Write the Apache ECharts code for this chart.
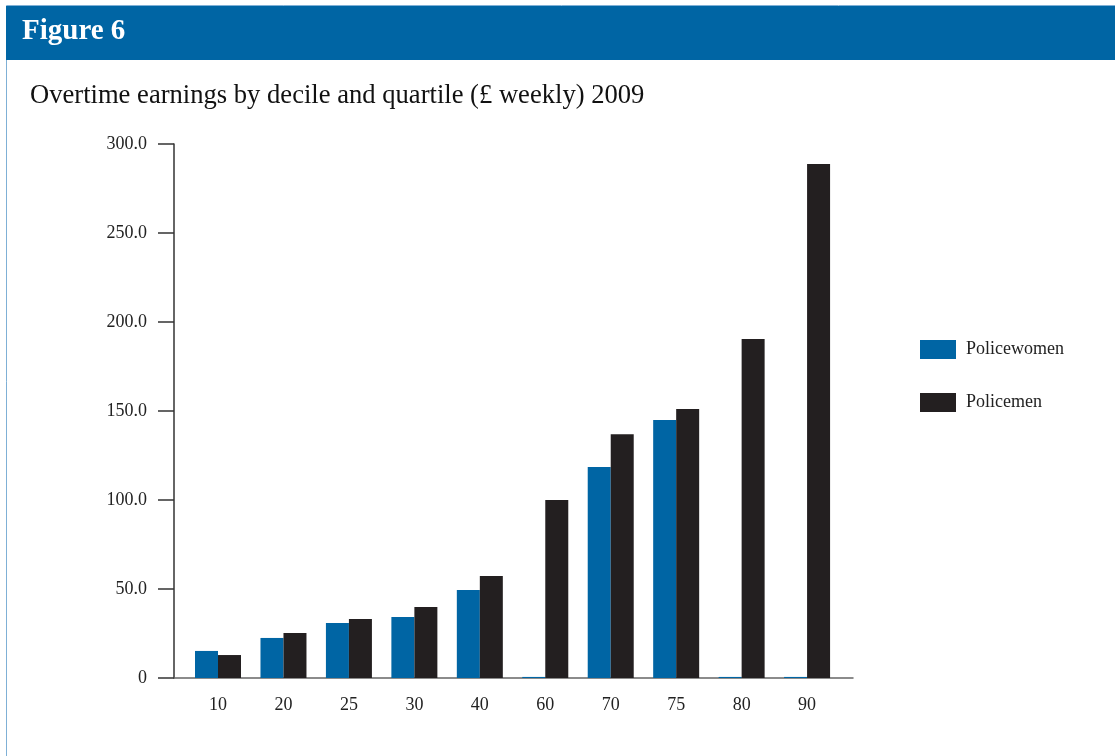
<!DOCTYPE html>
<html lang="en">
  <head>
    <meta charset="utf-8" />
    <title>Figure 6</title>
    <style>
      * {
        margin: 0;
        padding: 0;
      }

      #chart-container {
        position: relative;
        width: 1115px;
        height: 756px;
        overflow: hidden;
        background: #fff;
      }
    </style>
  </head>

  <body>
    <div id="chart-container"></div>
    <script src="https://cdn.jsdelivr.net/npm/echarts@6/dist/echarts.min.js"></script>
    <script>
      var categories = ["10", "20", "25", "30", "40", "60", "70", "75", "80", "90"];
      var policewomen = [15.2, 22.5, 30.9, 34.3, 49.4, 0.6, 118.5, 145.0, 0.6, 0.6];
      var policemen = [12.9, 25.3, 33.1, 39.9, 57.3, 100.0, 137.0, 151.1, 190.4, 288.8];

      var blue = "#0065a4";
      var black = "#231f20";
      var serif = "'Liberation Serif', 'DejaVu Serif', serif";

      var dom = document.getElementById("chart-container");
      var myChart = echarts.init(dom, null, { renderer: "canvas" });

      var option = {
        animation: false,
        textStyle: { fontFamily: serif },
        graphic: [
          {
            type: "rect",
            shape: { x: 6.5, y: 5.5, width: 1120, height: 760 },
            style: { fill: "none", stroke: "#7fb0d6", lineWidth: 1 },
          },
          {
            type: "rect",
            shape: { x: 6, y: 6, width: 1110, height: 54 },
            style: { fill: blue },
          },
          {
            type: "text",
            left: 22,
            top: 17,
            style: {
              text: "Figure 6",
              fill: "#fff",
              font: "bold 29px " + serif,
            },
          },
          {
            type: "text",
            left: 30,
            top: 83,
            style: {
              text: "Overtime earnings by decile and quartile (£ weekly) 2009",
              fill: "#111",
              font: "26.6px " + serif,
            },
          },
        ],
        legend: {
          orient: "vertical",
          left: 920,
          top: 340,
          padding: 0,
          itemWidth: 36,
          itemHeight: 19,
          itemGap: 34,
          icon: "rect",
          textStyle: { fontFamily: serif, fontSize: 18, color: "#222", padding: [0, 0, 0, 5] },
          data: ["Policewomen", "Policemen"],
        },
        grid: [
          { left: 174, top: 144, width: 679, height: 534 },
          { left: 185.3, top: 144, width: 654.5, height: 534 },
        ],
        xAxis: [
          {
            gridIndex: 0,
            type: "value",
            min: 0,
            max: 1,
            axisLine: { show: true, lineStyle: { color: "#666", width: 1.5 } },
            axisTick: { show: false },
            axisLabel: { show: false },
            splitLine: { show: false },
          },
          {
            gridIndex: 1,
            type: "category",
            data: categories,
            axisLine: { show: false },
            axisTick: { show: false },
            axisLabel: {
              margin: 18,
              fontFamily: serif,
              fontSize: 18,
              color: "#222",
            },
          },
        ],
        yAxis: [
          {
            gridIndex: 0,
            type: "value",
            min: 0,
            max: 300,
            interval: 50,
            axisLine: { show: true, lineStyle: { color: "#333", width: 1.5 } },
            axisTick: { show: true, length: 16, lineStyle: { color: "#333", width: 1.5 } },
            axisLabel: {
              margin: 27,
              fontFamily: serif,
              fontSize: 18,
              color: "#222",
              formatter: function (v) {
                return v === 0 ? "0" : v.toFixed(1);
              },
            },
            splitLine: { show: false },
          },
          {
            gridIndex: 1,
            type: "value",
            min: 0,
            max: 300,
            show: false,
          },
        ],
        series: [
          {
            name: "Policewomen",
            type: "bar",
            xAxisIndex: 1,
            yAxisIndex: 1,
            data: policewomen,
            barWidth: 23,
            barGap: "0%",
            itemStyle: { color: blue },
          },
          {
            name: "Policemen",
            type: "bar",
            xAxisIndex: 1,
            yAxisIndex: 1,
            data: policemen,
            barWidth: 23,
            barGap: "0%",
            itemStyle: { color: black },
          },
        ],
      };

      myChart.setOption(option);
      window.addEventListener("resize", myChart.resize);
    </script>
  </body>
</html>
